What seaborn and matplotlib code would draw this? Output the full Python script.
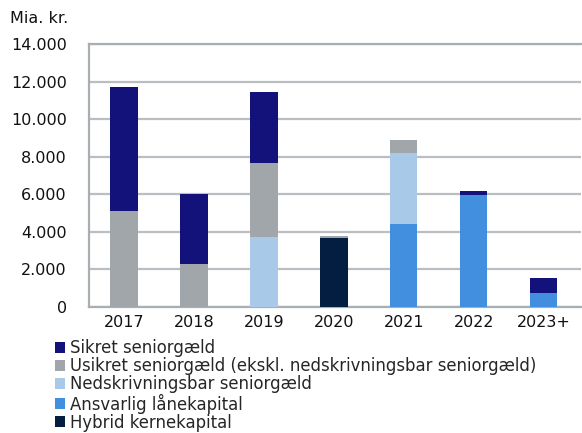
import numpy as np
import pandas as pd
import matplotlib
matplotlib.use("Agg")
import matplotlib.pyplot as plt
import seaborn as sns
from matplotlib.patches import Patch

# data (mia. kr.)
years = ["2017", "2018", "2019", "2020", "2021", "2022", "2023+"]
hybrid = [0, 0, 0, 3690, 0, 0, 0]
ansvarlig = [0, 0, 0, 0, 4410, 5960, 730]
nedskriv = [0, 0, 3720, 0, 3780, 0, 0]
usikret = [5100, 2290, 3940, 80, 680, 0, 0]
sikret = [6600, 3710, 3770, 0, 0, 230, 800]

series = ["Sikret seniorgæld",
          "Usikret seniorgæld (ekskl. nedskrivningsbar seniorgæld)",
          "Nedskrivningsbar seniorgæld",
          "Ansvarlig lånekapital",
          "Hybrid kernekapital"]
colors = ["#12127A", "#A0A6A9", "#A9C9E9", "#418FDE", "#041E42"]

# stack bottom -> top: hybrid, ansvarlig, nedskriv, usikret, sikret
layers = [hybrid, ansvarlig, nedskriv, usikret, sikret]
cum = np.cumsum(np.array(layers), axis=0)
df = pd.DataFrame({"year": years})
for i, name in enumerate(series[::-1]):
    df[name] = cum[i]

sns.set_style("white")
plt.rcParams["font.family"] = ["DejaVu Sans"]

fig = plt.figure(figsize=(5.82, 4.33), dpi=100)
ax = fig.add_axes([0.153, 0.291, 0.845, 0.607])

# draw tallest cumulative first so smaller ones sit on top
for name, col in zip(series, colors):
    sns.barplot(data=df, x="year", y=name, color=col, width=0.39,
                saturation=1, ax=ax, zorder=3, edgecolor="none", linewidth=0)

ax.set_ylim(0, 14000)
ax.set_yticks(range(0, 14001, 2000))
ax.set_yticklabels([f"{v:,}".replace(",", ".") for v in range(0, 14001, 2000)])
ax.set_xlim(-0.5, 6.53)
ax.set_xlabel("")
ax.set_ylabel("")
ax.grid(axis="y", color="#B9BEC2", linewidth=1.6, zorder=0)
for s in ["left", "bottom", "top"]:
    ax.spines[s].set_color("#A9AEB2")
    ax.spines[s].set_linewidth(1.6)
ax.spines["right"].set_visible(False)
ax.tick_params(axis="both", length=0, labelsize=11.5, colors="#111111")
ax.tick_params(axis="y", pad=16)
ax.tick_params(axis="x", pad=6)

fig.text(0.017, 0.958, "Mia. kr.", fontsize=11.5, color="#111111", va="center")

handles = [Patch(facecolor=c, edgecolor="none") for c in colors]
fig.legend(handles, series, loc="upper left", bbox_to_anchor=(0.094, 0.216),
           frameon=False, fontsize=11.9, handlelength=0.65, handleheight=0.65,
           handletextpad=0.3, labelspacing=0.0, borderaxespad=0, borderpad=0)

fig.savefig("out.png", dpi=100)
